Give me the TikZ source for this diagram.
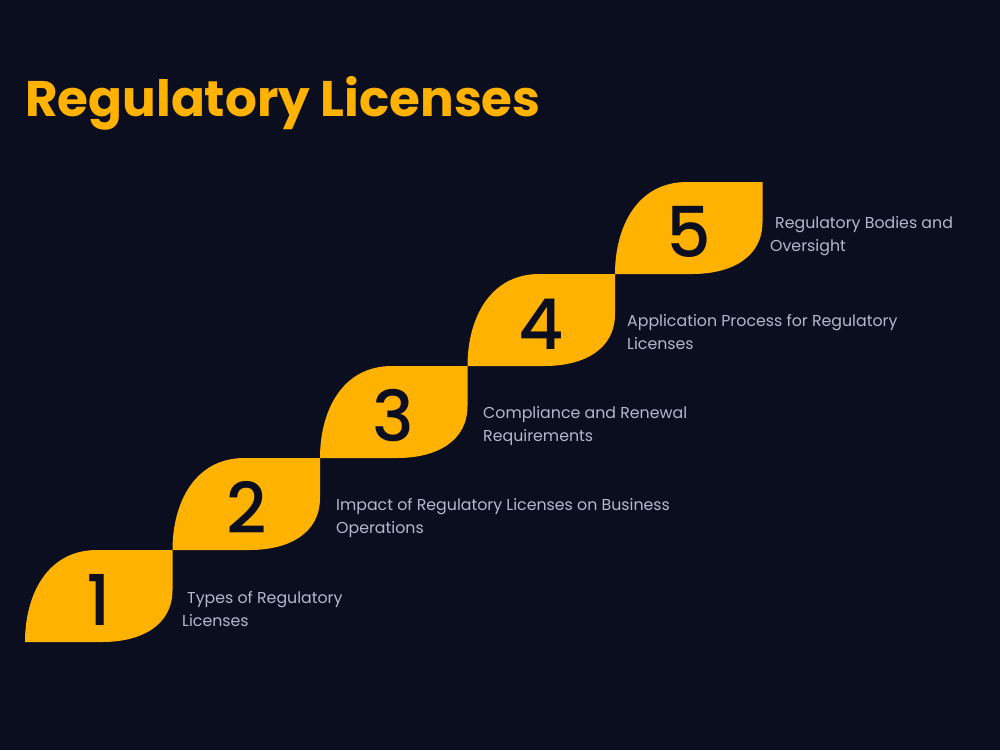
\documentclass[tikz,border=0pt]{standalone}
\usepackage{fontspec}
\setmainfont{Poppins}
\newfontfamily\popnum{Poppins}[UprightFont=* Medium]
\definecolor{bg}{HTML}{0B0E1F}
\definecolor{gold}{HTML}{FFB300}
\definecolor{txt}{HTML}{B4B8CA}
\tikzset{
  leaf/.style={fill=gold, draw=none},
  numlbl/.style={anchor=base, text=bg, font=\popnum\fontsize{70}{70}\selectfont, inner sep=0pt},
  desc/.style={anchor=base west, text=txt, font=\fontsize{15.8}{23}\selectfont, align=left, inner sep=0pt},
}
\begin{document}
\begin{tikzpicture}[x=1pt,y=-1pt]
\fill[bg] (0,0) rectangle (1000,750);
\useasboundingbox (0,0) rectangle (1000,750);
\node[anchor=base west, text=gold, font=\bfseries\fontsize{50}{54}\selectfont, inner sep=0pt] (title) at (25,116) {Regulatory Licenses};

\path[leaf] (25,642) .. controls (25,595) and (47,550) .. (97,550)
   -- (172.5,550) -- (172.5,590) .. controls (172.5,625) and (142,642) .. (102,642) -- cycle;
\path[leaf] (172.5,550) .. controls (172.5,503) and (194.5,458) .. (244.5,458)
   -- (320,458) -- (320,498) .. controls (320,533) and (289.5,550) .. (249.5,550) -- cycle;
\path[leaf] (320,458) .. controls (320,411) and (342,366) .. (392,366)
   -- (467.5,366) -- (467.5,406) .. controls (467.5,441) and (437,458) .. (397,458) -- cycle;
\path[leaf] (467.5,366) .. controls (467.5,319) and (489.5,274) .. (539.5,274)
   -- (615,274) -- (615,314) .. controls (615,349) and (584.5,366) .. (544.5,366) -- cycle;
\path[leaf] (615,274) .. controls (615,227) and (637,182) .. (687,182)
   -- (762.5,182) -- (762.5,222) .. controls (762.5,257) and (732,274) .. (692,274) -- cycle;

\node[numlbl] (n1) at (98.75,625) {1};
\node[numlbl] (n2) at (246.25,533) {2};
\node[numlbl] (n3) at (393.75,441) {3};
\node[numlbl] (n4) at (541.25,349) {4};
\node[numlbl] (n5) at (688.75,257) {5};

\node[desc] (d1) at (182,626) {\hspace{5pt}Types of Regulatory\\Licenses};
\node[desc] (d2) at (336,533) {Impact of Regulatory Licenses on Business\\Operations};
\node[desc] (d3) at (483,441) {Compliance and Renewal\\Requirements};
\node[desc] (d4) at (627,349) {Application Process for Regulatory\\Licenses};
\node[desc] (d5) at (770,251) {\hspace{5pt}Regulatory Bodies and\\Oversight};
\end{tikzpicture}
\end{document}
